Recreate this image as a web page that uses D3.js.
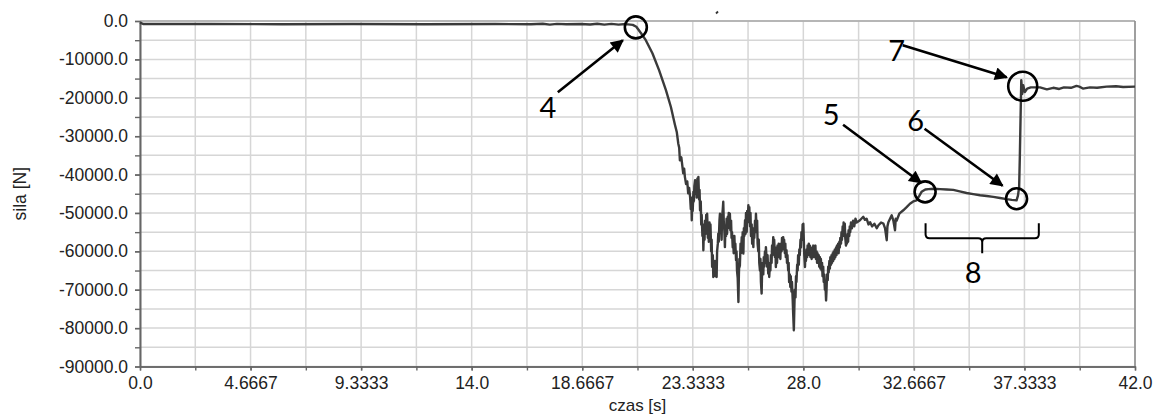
<!DOCTYPE html>
<html><head><meta charset="utf-8">
<script src="https://cdn.jsdelivr.net/npm/d3@7"></script>
<style>
html,body{margin:0;padding:0;background:#fff;}
svg{display:block;}
</style></head>
<body><svg id="c" width="1154" height="416"></svg>
<script>
// ---------- data: [time s, force N] readings, by phase ----------
const flatPhase = [[0,-450],[0.15,-800],[3,-800],[6,-830],[9,-800],[12,-830],[15,-800],[16.5,-850],[17.0,-700],[17.3,-950],
[17.6,-750],[18.0,-850],[18.6,-800],[19.0,-920],[19.3,-700],[19.6,-950],[19.9,-750],[20.2,-950],[20.5,-800],[20.8,-1000]];

const dropPhase = [[20.95,-1500],[21.15,-3200],[21.35,-5000],[21.63,-8400],[21.91,-12800],[22.2,-18000],[22.41,-22400],[22.58,-27000],
[22.66,-29000],[22.72,-31900],[22.76,-33000],[22.79,-36300],[22.85,-35500],[22.93,-39700],[22.97,-38500],[23.0,-40600],[23.05,-42500],
[23.1,-41800],[23.14,-44900],[23.18,-43500]];

const noisyPhase = [[23.22,-45800],[23.25,-49000],[23.27,-46000],[23.29,-51900],[23.31,-47500],[23.33,-49500],[23.36,-44500],[23.38,-47000],
[23.40,-43000],[23.43,-41500],[23.45,-45000],[23.48,-42000],[23.50,-46000],[23.53,-41000],[23.55,-44500],[23.57,-40600],[23.60,-46500],
[23.62,-44000],[23.64,-49300],[23.67,-47000],[23.69,-53000],[23.71,-50500],[23.74,-56000],[23.76,-53000],[23.78,-59700],[23.80,-55000],
[23.83,-57000],[23.85,-52000],[23.87,-55500],[23.90,-50500],[23.92,-53500],[23.94,-50200],[23.97,-56500],[23.99,-53000],[24.01,-57500],
[24.04,-52500],[24.06,-55700],[24.08,-53000],[24.11,-60000],[24.13,-57000],[24.15,-64000],[24.18,-61000],[24.20,-66700],[24.22,-63000],
[24.25,-66000],[24.27,-62500],[24.29,-66500],[24.32,-63000],[24.34,-66700],[24.36,-60000],[24.39,-58000],[24.41,-55400],[24.43,-57500],
[24.46,-52000],[24.48,-50200],[24.50,-55000],[24.53,-52000],[24.55,-57000],[24.57,-51000],[24.60,-49000],[24.62,-47100],[24.64,-52000],
[24.67,-55000],[24.69,-58900],[24.71,-54000],[24.74,-56000],[24.76,-51500],[24.78,-55500],[24.81,-51000],[24.83,-53700],[24.85,-50000],
[24.88,-54000],[24.90,-50200],[24.92,-54500],[24.95,-52000],[24.97,-56500],[24.99,-55000],[25.02,-59000],[25.04,-57000],[25.06,-60500],
[25.09,-56000],[25.11,-60000],[25.13,-58000],[25.16,-62300],[25.18,-60000],[25.20,-65000],[25.23,-67000],[25.26,-73200],[25.28,-66000],
[25.30,-62000],[25.32,-64000],[25.35,-58000],[25.37,-60500],[25.40,-56300],[25.42,-59000],[25.44,-55000],[25.47,-60600],[25.49,-54000],
[25.51,-56000],[25.54,-51900],[25.56,-55500],[25.58,-50000],[25.61,-55000],[25.63,-49500],[25.65,-52500],[25.68,-48000],[25.70,-52000],
[25.72,-48500],[25.75,-53500],[25.77,-50000],[25.79,-56000],[25.82,-53000],[25.84,-58000],[25.86,-55000],[25.89,-58900],[25.91,-54000],
[25.93,-56500],[25.96,-52000],[25.98,-55000],[26.00,-50200],[26.03,-54500],[26.05,-52000],[26.07,-58000],[26.10,-60000],[26.12,-57000],
[26.14,-63000],[26.17,-65000],[26.19,-62000],[26.21,-68000],[26.24,-71000],[26.26,-65000],[26.28,-63000],[26.31,-66000],[26.33,-61500],
[26.35,-64000],[26.38,-60000],[26.40,-63000],[26.42,-58900],[26.45,-62000],[26.47,-64000],[26.49,-61000],[26.52,-65800],[26.54,-63000],
[26.56,-66700],[26.59,-63500],[26.61,-65000],[26.63,-61000],[26.66,-63000],[26.68,-58500],[26.70,-61000],[26.73,-56300],[26.75,-59000],
[26.77,-57000],[26.80,-61500],[26.82,-59000],[26.84,-64100],[26.87,-61000],[26.89,-63000],[26.91,-58500],[26.94,-61000],[26.96,-58000],
[26.98,-61500],[27.01,-59000],[27.03,-62000],[27.05,-58000],[27.08,-60000],[27.10,-56500],[27.12,-59000],[27.15,-56300],[27.17,-59500],
[27.19,-57000],[27.22,-60500],[27.24,-58000],[27.26,-61500],[27.29,-59700],[27.31,-63000],[27.33,-61000],[27.36,-65000],[27.38,-63000],
[27.40,-68000],[27.43,-66000],[27.45,-69300],[27.47,-66500],[27.50,-70500],[27.52,-68000],[27.55,-72500],[27.57,-76000],[27.60,-80600],
[27.62,-75000],[27.64,-70000],[27.67,-72000],[27.69,-66500],[27.71,-68000],[27.74,-63500],[27.76,-65000],[27.78,-61000],[27.81,-63500],
[27.83,-59500],[27.85,-61000],[27.88,-57000],[27.90,-59000],[27.92,-55000],[27.95,-57000],[27.97,-53000],[28.00,-52800],[28.02,-57000],
[28.04,-61000],[28.07,-64100],[28.09,-60500],[28.11,-62500],[28.14,-59500],[28.16,-61500],[28.18,-58500],[28.21,-60500],[28.23,-58000],
[28.25,-61000],[28.28,-58500],[28.30,-61500],[28.32,-59000],[28.35,-62000],[28.37,-59500],[28.39,-61000],[28.42,-58500],[28.44,-61500],
[28.46,-59000],[28.49,-61000],[28.51,-58500],[28.53,-62000],[28.56,-60000],[28.58,-63000],[28.60,-60500],[28.63,-63000],[28.65,-61000],
[28.67,-64000],[28.70,-61500],[28.72,-64500],[28.74,-62000],[28.77,-65000],[28.79,-63000],[28.81,-66500],[28.84,-64000],[28.86,-68000],
[28.88,-66000],[28.91,-70000],[28.93,-68000],[28.96,-72800],[28.98,-70000],[29.00,-66000],[29.03,-67500],[29.05,-64000],[29.07,-65500],
[29.10,-62500],[29.12,-64500],[29.14,-61500],[29.17,-63500],[29.19,-61000],[29.21,-63000],[29.24,-60500],[29.26,-62500],[29.28,-60000],
[29.31,-62000],[29.33,-59500],[29.35,-61500],[29.38,-59000],[29.40,-61000],[29.42,-58500],[29.45,-60000],[29.47,-58000],[29.49,-60500],
[29.52,-57500],[29.54,-59000],[29.56,-56500],[29.59,-58000],[29.61,-55000],[29.63,-57000],[29.66,-53500],[29.68,-56000],[29.70,-52500],
[29.73,-55000],[29.75,-52800],[29.77,-56500],[29.80,-58500],[29.82,-56000],[29.84,-58000],[29.87,-55500],[29.89,-57500],[29.91,-54500],
[29.94,-56000],[29.96,-53500],[29.98,-55000],[30.01,-52500],[30.05,-54000],[30.10,-52000],[30.15,-53500],[30.20,-51500],[30.25,-52500]];

const recoveryPhase = [[30.39,-51900],[30.53,-51000],[30.6,-51800],[30.67,-51500],[30.75,-53000],[30.82,-52400],[30.9,-53500],[31.0,-52800],
[31.1,-54000],[31.17,-53200],[31.28,-52500],[31.38,-52800],[31.45,-54000],[31.52,-57100],[31.55,-53500],[31.59,-52400],[31.66,-51500],
[31.73,-50600],[31.8,-52000],[31.87,-54500],[31.9,-51500],[31.94,-52000],[32.05,-50200],[32.22,-49300],[32.36,-48500],[32.5,-47600],
[32.64,-47000],[32.78,-46700],[32.9,-45500],[32.99,-44500]];

const holdPhase = [[33.15,-43900],[33.28,-43800],[33.5,-43700],[33.77,-43800],[34.05,-43900],[34.33,-44000],[34.6,-44400],[34.89,-44800],
[35.17,-45100],[35.46,-45400],[35.74,-45600],[36.02,-45800],[36.3,-46100],[36.58,-46400],[36.8,-46600],[37.0,-46700]];

const releasePhase = [[37.06,-45500],[37.11,-43200],[37.14,-35000],[37.17,-25000],[37.2,-15400],[37.24,-19000],[37.28,-16700],[37.35,-18500],
[37.45,-17600],[37.6,-17300],[37.99,-17300],[38.28,-17800],[38.55,-17400],[38.8,-17700],[39.0,-17300],[39.3,-17400],[39.53,-16900],
[39.65,-17100],[39.8,-17600],[40.1,-17300],[40.4,-17400],[40.8,-17100],[41.2,-17000],[41.5,-17200],[42.0,-17100]];

const xTickValues = [0,4.6667,9.3333,14.0,18.6667,23.3333,28.0,32.6667,37.3333,42.0];
const xTickLabels = ["0.0","4.6667","9.3333","14.0","18.6667","23.3333","28.0","32.6667","37.3333","42.0"];
const yTickValues = [0,-10000,-20000,-30000,-40000,-50000,-60000,-70000,-80000,-90000];
const yTickLabels = ["0.0","-10000.0","-20000.0","-30000.0","-40000.0","-50000.0","-60000.0","-70000.0","-80000.0","-90000.0"];

// annotation markers (data coords) and labels
const markLabels = ["4","5","6","7"];
const markTime  = [20.93, 33.14, 37.0, 37.26];
const markForce = [-1650, -44500, -46300, -17000];
const bracketLabel = "8";
const bracketTime = [33.16, 37.94];
const bracketForce = [-52700, -56600];

// ---------- layout ----------
const svg = d3.select("#c");
const L = 140, R = 1135, T = 21, B = 366.5;
const x = d3.scaleLinear().domain([0,42]).range([L,R]);
const y = d3.scaleLinear().domain([-90000,0]).range([B,T]);
const tickFont = "'Liberation Sans', Arial, sans-serif";

// grid
const xGrid = d3.range(0,19).map(i=>i*42/18);
const yGrid = d3.range(0,19).map(i=>-i*5000);
svg.append("g").selectAll("line").data(xGrid).join("line")
  .attr("x1",d=>x(d)).attr("x2",d=>x(d)).attr("y1",T).attr("y2",B)
  .attr("stroke","#d6d6d6").attr("stroke-width",1.5);
svg.append("g").selectAll("line").data(yGrid).join("line")
  .attr("x1",L).attr("x2",R).attr("y1",d=>y(d)).attr("y2",d=>y(d))
  .attr("stroke","#d6d6d6").attr("stroke-width",1.5);
svg.append("line").attr("x1",L).attr("x2",R).attr("y1",T).attr("y2",T).attr("stroke","#a8a8a8").attr("stroke-width",1.5);
svg.append("line").attr("x1",R).attr("x2",R).attr("y1",T).attr("y2",B).attr("stroke","#8a8a8a").attr("stroke-width",1.5);

// axes
function styleAxis(g){
  g.select(".domain").attr("stroke","#666").attr("stroke-width",1.6);
  g.selectAll(".tick line").attr("stroke","#666").attr("stroke-width",1.4);
  g.selectAll("text").attr("font-family",tickFont).attr("font-size","17.5px").attr("fill","#222");
}
const xMinor = svg.append("g").attr("transform",`translate(0,${B})`)
  .call(d3.axisBottom(x).tickValues(xGrid).tickFormat("").tickSize(4).tickSizeOuter(0));
styleAxis(xMinor);
const xAxis = svg.append("g").attr("transform",`translate(0,${B})`)
  .call(d3.axisBottom(x).tickValues(xTickValues).tickFormat((d,i)=>xTickLabels[i]).tickSize(4).tickPadding(6).tickSizeOuter(0));
styleAxis(xAxis);
const yMinor = svg.append("g").attr("transform",`translate(${L},0)`)
  .call(d3.axisLeft(y).tickValues(yGrid).tickFormat("").tickSize(5).tickSizeOuter(0));
styleAxis(yMinor);
const yAxis = svg.append("g").attr("transform",`translate(${L},0)`)
  .call(d3.axisLeft(y).tickValues(yTickValues).tickFormat((d,i)=>yTickLabels[i]).tickSize(5).tickPadding(7).tickSizeOuter(0));
styleAxis(yAxis);

// axis titles
svg.append("text").attr("x",(L+R)/2).attr("y",405).attr("dy","0.35em")
  .attr("text-anchor","middle").attr("font-family",tickFont).attr("font-size","17px").attr("fill","#222").text("czas [s]");
svg.append("text").attr("transform",`translate(20,${(T+B)/2}) rotate(-90)`).attr("dy","0.35em")
  .attr("text-anchor","middle").attr("font-family",tickFont).attr("font-size","17.5px").attr("fill","#222").text("sila [N]");

// data line
const pts = [].concat(flatPhase, dropPhase, noisyPhase, recoveryPhase, holdPhase, releasePhase);
svg.append("path").datum(pts)
  .attr("d",d3.line().x(d=>x(d[0])).y(d=>y(d[1])))
  .attr("fill","none").attr("stroke","#3a3a3a").attr("stroke-width",2.4).attr("stroke-linejoin","round");

// small stray mark at top
svg.append("line").attr("x1",716).attr("y1",13.5).attr("x2",718).attr("y2",11.5).attr("stroke","#333").attr("stroke-width",1.8);

// ---------- annotations ----------
const defs = svg.append("defs");
defs.append("marker").attr("id","ah").attr("viewBox","0 0 10 10").attr("refX",9).attr("refY",5)
  .attr("markerWidth",6).attr("markerHeight",5).attr("markerUnits","strokeWidth").attr("orient","auto")
  .append("path").attr("d","M0,0 L10,5 L0,10 Z").attr("fill","#000");

const radii = [11, 10.5, 10.5, 14.5];
const arrowTail = [[-78,65],[-82,-67],[-92,-70],[-120,-41]];
const arrowTip  = [[-13,13],[-4,-9],[-14,-13],[-16,-9]];
const labelOff  = [[-88,80],[-94,-77],[-101,-78],[-126,-36]];
const labFont = "Lato, 'Open Sans', sans-serif";

markLabels.forEach((lab,i)=>{
  const cx = x(markTime[i]), cy = y(markForce[i]);
  svg.append("circle").attr("cx",cx).attr("cy",cy).attr("r",radii[i])
    .attr("fill","none").attr("stroke","#000").attr("stroke-width",2.6);
  svg.append("line").attr("x1",cx+arrowTail[i][0]).attr("y1",cy+arrowTail[i][1])
    .attr("x2",cx+arrowTip[i][0]).attr("y2",cy+arrowTip[i][1])
    .attr("stroke","#000").attr("stroke-width",2.6).attr("marker-end","url(#ah)");
  svg.append("text").attr("x",cx+labelOff[i][0]).attr("y",cy+labelOff[i][1]).attr("dy","0.36em")
    .attr("text-anchor","middle").attr("font-family",labFont).attr("font-size","29px").attr("fill","#000").text(lab);
});

// bracket 8
const bx0 = x(bracketTime[0]), bx1 = x(bracketTime[1]);
const byTop = y(bracketForce[0]), byBot = y(bracketForce[1]);
const bm = (bx0+bx1)/2;
const rr = 4;
const bpath = `M${bx0},${byTop} L${bx0},${byBot-rr} Q${bx0},${byBot} ${bx0+rr},${byBot} L${bm-rr},${byBot} Q${bm},${byBot} ${bm},${byBot+rr} L${bm},${byBot+15}
 M${bm},${byBot+rr} Q${bm},${byBot} ${bm+rr},${byBot} L${bx1-rr},${byBot} Q${bx1},${byBot} ${bx1},${byBot-rr} L${bx1},${byTop}`;
svg.append("path").attr("d",bpath).attr("fill","none").attr("stroke","#000").attr("stroke-width",2);
svg.append("text").attr("x",bm-9).attr("y",byBot+34).attr("dy","0.36em")
  .attr("text-anchor","middle").attr("font-family",labFont).attr("font-size","29px").attr("fill","#000").text(bracketLabel);
</script></body></html>
